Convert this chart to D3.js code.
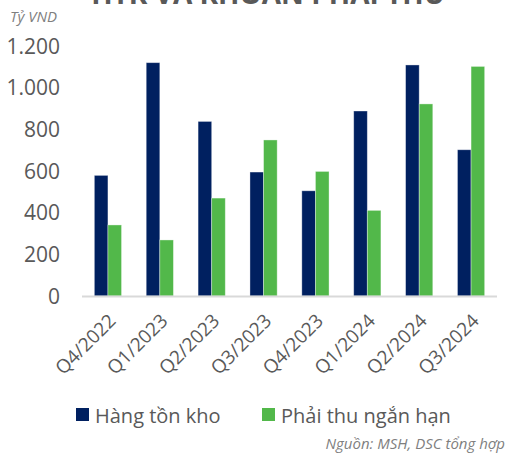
<!DOCTYPE html>
<html>
  <head>
    <meta charset="utf-8">
    <title>HTK và khoản phải thu</title>
    <script src="https://d3js.org/d3.v7.min.js"></script>
    <style>
      body { margin: 0; background: #fff; }
      text { font-family: "Open Sans", sans-serif; }
    </style>
  </head>
  <body>
    <div id="chart"></div>
    <script>
      // data (tỷ VND)
      var quarters = ["Q4/2022", "Q1/2023", "Q2/2023", "Q3/2023", "Q4/2023", "Q1/2024", "Q2/2024", "Q3/2024"];
      var inventory = [579, 1120, 838, 595, 505, 888, 1109, 702];
      var receivables = [341, 269, 470, 749, 598, 411, 922, 1102];
      var yTicks = [0, 200, 400, 600, 800, 1000, 1200];
      var seriesNames = ["Hàng tồn kho", "Phải thu ngắn hạn"];
      var seriesColours = ["#002060", "#52b84a"];

      var width = 509, height = 453;
      var margin = { top: 46, right: 12, bottom: 157, left: 82 };

      var svg = d3.select("#chart")
        .append("svg")
          .attr("width", width)
          .attr("height", height);

      // title, cut off at the top as in the source
      svg.append("text")
          .attr("x", 268)
          .attr("y", 4)
          .attr("text-anchor", "middle")
          .style("font-size", "28px")
          .style("font-weight", "bold")
          .style("fill", "#595959")
          .text("HTK VÀ KHOẢN PHẢI THU");

      svg.append("text")
          .attr("x", 10)
          .attr("y", 22)
          .style("font-size", "15px")
          .style("font-style", "italic")
          .style("fill", "#7f7f7f")
          .text("Tỷ VND");

      var x = d3.scaleBand()
        .domain(quarters)
        .range([margin.left, width - margin.right]);
      var y = d3.scaleLinear()
        .domain([0, 1200])
        .range([height - margin.bottom, margin.top]);

      var vn = d3.formatLocale({ decimal: ",", thousands: ".", grouping: [3], currency: ["", ""] });
      var fmt = vn.format(",");

      // y axis labels
      svg.append("g")
        .selectAll("text")
        .data(yTicks)
        .enter().append("text")
          .attr("x", 60)
          .attr("y", function(d) { return y(d); })
          .attr("dy", "0.36em")
          .attr("text-anchor", "end")
          .style("font-size", "21px")
          .style("fill", "#595959")
          .text(fmt);

      // bars
      var barW = 13.6;
      var groups = svg.append("g")
        .selectAll("g")
        .data(quarters)
        .enter().append("g")
          .attr("transform", function(d) { return "translate(" + (x(d) + x.bandwidth() / 2) + ",0)"; });
      groups.selectAll("rect")
        .data(function(d, i) { return [inventory[i], receivables[i]]; })
        .enter().append("rect")
          .attr("x", function(d, j) { return j == 0 ? -barW : 0; })
          .attr("y", function(d) { return y(d); })
          .attr("width", barW)
          .attr("height", function(d) { return y(0) - y(d); })
          .style("fill", function(d, j) { return seriesColours[j]; })
          .style("stroke", "#ffffff")
          .style("stroke-opacity", 0.45)
          .style("stroke-width", 0.8);

      // baseline
      svg.append("line")
          .attr("x1", margin.left)
          .attr("x2", width - margin.right)
          .attr("y1", y(0) + 0.5)
          .attr("y2", y(0) + 0.5)
          .style("stroke", "#d9d9d9")
          .style("stroke-width", 2);

      // x labels, rotated
      svg.append("g")
        .selectAll("text")
        .data(quarters)
        .enter().append("text")
          .attr("transform", function(d) {
            return "translate(" + (x(d) + x.bandwidth() / 2 + 1) + "," + (y(0) + 18) + ") rotate(-45)";
          })
          .attr("text-anchor", "end")
          .attr("dy", "0.6em")
          .style("font-size", "19px")
          .style("fill", "#595959")
          .text(function(d) { return d; });

      // legend
      var legendX = [76, 262];
      var legend = svg.append("g")
        .selectAll("g")
        .data(seriesNames)
        .enter().append("g")
          .attr("transform", function(d, i) { return "translate(" + legendX[i] + ",408)"; });
      legend.append("rect")
          .attr("width", 13)
          .attr("height", 13)
          .style("fill", function(d, i) { return seriesColours[i]; });
      legend.append("text")
          .attr("x", 19)
          .attr("y", 15)
          .style("font-size", "20px")
          .style("fill", "#595959")
          .text(function(d) { return d; });

      // source
      svg.append("text")
          .attr("x", 505)
          .attr("y", 449)
          .attr("text-anchor", "end")
          .style("font-size", "15px")
          .style("font-style", "italic")
          .style("fill", "#7f7f7f")
          .text("Nguồn: MSH, DSC tổng hợp");
    </script>
  </body>
</html>
